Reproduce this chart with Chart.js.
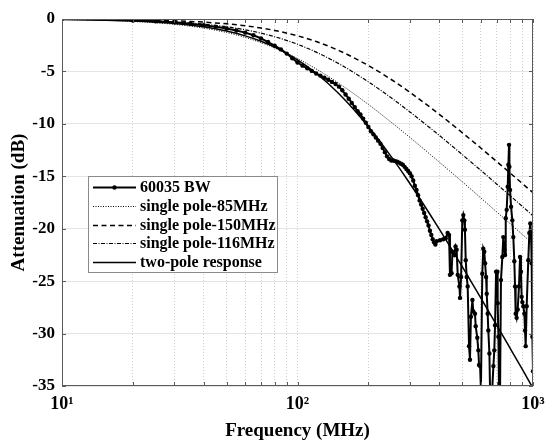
<!DOCTYPE html>
<html>
<head>
<meta charset="utf-8">
<script src="https://cdn.jsdelivr.net/npm/chart.js@4.4.0/dist/chart.umd.min.js"></script>
<style>
  html, body { margin: 0; padding: 0; background: #fff; }
  #wrap { width: 547px; height: 442px; }
</style>
</head>
<body>
<div id="wrap"><canvas id="attChart" width="547" height="442"></canvas></div>
<script>
// measured 60035 response (MHz, dB)
const measFreq = [10, 15, 20, 25, 30, 35, 40, 45, 50, 55, 60, 65, 70, 75, 80, 85, 90, 95,
  100, 105, 110, 115, 120, 125, 130, 135, 140, 145, 150, 155, 160, 165, 170, 175, 180, 185, 190, 195,
  200, 205, 210, 215, 220, 225, 230, 235, 240, 245, 250, 255, 260, 265, 270, 275, 280, 285, 290, 295,
  300, 305, 310, 315, 320, 325, 330, 335, 340, 345, 350, 355, 360, 365, 370, 375, 380, 385,
  390, 403, 416, 426, 434, 440, 444, 451, 455, 463, 469, 474, 479, 487, 490, 495,
  501, 506, 511, 514, 518, 523, 528, 535, 540, 545, 553, 558, 567, 571, 580, 586, 590, 596,
  601, 609, 615, 621, 626, 632, 636, 642, 646, 653, 657, 667, 679, 685, 690, 697,
  706, 708, 713, 717, 724, 731, 741, 748, 756, 761, 766, 773, 781, 786, 791, 794, 799,
  807, 817, 825, 833, 839, 844, 852, 861, 872, 881, 889, 895,
  901, 910, 919, 925, 931, 940, 955, 965, 974, 981, 987, 994, 1000];
const measAtt = [0, 0.05, -0.15, -0.22, -0.32, -0.45, -0.6, -0.75, -0.9, -1.1, -1.3, -1.55, -1.85, -2.2, -2.55, -2.9, -3.3, -3.75,
  -4.15, -4.45, -4.7, -4.95, -5.2, -5.4, -5.6, -5.8, -6.0, -6.2, -6.45, -6.8, -7.2, -7.6, -8.0, -8.4, -8.8, -9.1, -9.5, -9.9,
  -10.3, -10.7, -11.0, -11.3, -11.6, -11.9, -12.3, -12.7, -13.1, -13.35, -13.5, -13.5, -13.55, -13.6, -13.7, -13.8, -13.9, -14.1, -14.3, -14.5,
  -14.7, -15.0, -15.4, -15.9, -16.3, -16.8, -17.3, -17.7, -18.1, -18.5, -18.9, -19.3, -19.7, -20.2, -20.6, -21.0, -21.3, -21.5,
  -21.2, -21.1, -21.0, -20.9, -20.4, -20.6, -24.4, -24.25, -22.2, -22.5, -21.7, -22.0, -24.4, -25.5, -26.6, -24.6,
  -19.2, -18.7, -19.2, -20.1, -23.0, -24.6, -25.5, -31.2, -32.5, -28.4, -26.8, -27.9, -28.1, -29.3, -30.4, -31.6, -33.0, -33.1,
  -35.3, -24.3, -21.9, -22.2, -23.3, -24.6, -26.2, -28.1, -29.7, -31.9, -35.3, -36.5, -33.1, -31.6, -29.2, -24.1,
  -24.1, -27.1, -30.3, -35.3, -36.5, -24.9, -22.7, -20.8, -22.0, -22.5, -19.0, -18.2, -16.0, -13.9, -12.0, -14.1, -16.3,
  -17.9, -19.2, -20.8, -23.1, -25.5, -28.1, -28.5, -27.7, -25.5, -22.7, -24.1, -26.5,
  -27.0, -27.4, -28.1, -29.7, -31.2, -27.4, -23.0, -20.4, -19.5, -20.4, -23.3, -30.3, -33.6];

// model curves
const modelFreq = [10, 15, 20, 30, 40, 50, 60, 70, 80, 100, 120, 150, 200, 250, 300, 400, 500, 600, 700, 800, 900, 1000];
const pole85 = [-0.06, -0.13, -0.23, -0.51, -0.87, -1.29, -1.76, -2.25, -2.76, -3.77, -4.76, -6.14, -8.15, -9.85, -11.29, -13.65, -15.51, -17.06, -18.38, -19.52, -20.54, -21.44];
const pole150 = [-0.02, -0.04, -0.08, -0.17, -0.30, -0.46, -0.64, -0.86, -1.09, -1.60, -2.15, -3.01, -4.44, -5.77, -6.99, -9.09, -10.83, -12.30, -13.58, -14.69, -15.68, -16.57];
const pole116 = [-0.03, -0.07, -0.13, -0.28, -0.49, -0.74, -1.03, -1.35, -1.69, -2.41, -3.16, -4.27, -5.99, -7.52, -8.86, -11.10, -12.92, -14.43, -15.73, -16.86, -17.86, -18.77];
const twoPole = [-0.05, -0.11, -0.19, -0.43, -0.75, -1.15, -1.61, -2.12, -2.68, -3.89, -5.17, -7.13, -10.27, -13.13, -15.69, -20.04, -23.60, -26.59, -29.16, -31.41, -33.40, -35.20];

const seriesNames = ['60035 BW', 'single pole-85MHz', 'single pole-150MHz', 'single pole-116MHz', 'two-pole response'];

// axis ticks
const xTickVals = [10, 20, 30, 40, 50, 60, 70, 80, 90, 100, 200, 300, 400, 500, 600, 700, 800, 900, 1000];
const xTickLabels = { 10: '10¹', 100: '10²', 1000: '10³' };
const yTickVals = [0, -5, -10, -15, -20, -25, -30, -35];

function pts(xs, ys) {
  return xs.map(function (x, i) { return { x: x, y: ys[i] }; });
}

Chart.defaults.font.family = "'Liberation Serif', 'Times New Roman', serif";
Chart.defaults.font.weight = 'bold';
Chart.defaults.color = '#000';

// box around the plot, inward ticks, legend inside the plot
const framePlugin = {
  id: 'framePlugin',
  afterDatasetsDraw(chart) {
    const ctx = chart.ctx;
    const a = chart.chartArea;
    const xs = chart.scales.x, ys = chart.scales.y;
    ctx.save();
    ctx.strokeStyle = '#5a5a5a';
    ctx.lineWidth = 1;
    ctx.setLineDash([]);
    ctx.strokeRect(a.left + 0.5, a.top + 0.5, a.right - a.left - 1, a.bottom - a.top - 1);
    ctx.beginPath();
    xTickVals.forEach(function (v) {
      const px = Math.round(xs.getPixelForValue(v)) + 0.5;
      ctx.moveTo(px, a.bottom); ctx.lineTo(px, a.bottom - 4);
      ctx.moveTo(px, a.top); ctx.lineTo(px, a.top + 4);
    });
    yTickVals.forEach(function (v) {
      const py = Math.round(ys.getPixelForValue(v)) + 0.5;
      ctx.moveTo(a.left, py); ctx.lineTo(a.left + 4, py);
      ctx.moveTo(a.right, py); ctx.lineTo(a.right - 4, py);
    });
    ctx.stroke();
    ctx.restore();
  },
  afterDraw(chart) {
    const ctx = chart.ctx;
    const a = chart.chartArea;
    const x0 = a.left + 26;
    const y0 = Math.round(chart.scales.y.getPixelForValue(-15));
    const w = 189, h = 96, rowH = 18.8;
    ctx.save();
    ctx.fillStyle = '#fff';
    ctx.fillRect(x0, y0, w, h);
    ctx.strokeStyle = '#8a8a8a';
    ctx.lineWidth = 1;
    ctx.strokeRect(x0 + 0.5, y0 + 0.5, w, h);
    ctx.font = "bold 16px 'Liberation Serif', 'Times New Roman', serif";
    ctx.textBaseline = 'middle';
    ctx.fillStyle = '#000';
    chart.data.datasets.forEach(function (ds, i) {
      const cy = Math.round(y0 + 11 + i * rowH) + 0.5;
      ctx.strokeStyle = '#000';
      ctx.lineWidth = ds.borderWidth;
      ctx.setLineDash(ds.borderDash || []);
      ctx.beginPath();
      ctx.moveTo(x0 + 5, cy);
      ctx.lineTo(x0 + 48, cy);
      ctx.stroke();
      if (ds.pointRadius > 0) {
        ctx.setLineDash([]);
        ctx.beginPath();
        ctx.arc(x0 + 26.5, cy, ds.pointRadius, 0, Math.PI * 2);
        ctx.fill();
      }
      ctx.fillText(ds.label, x0 + 52, cy);
    });
    ctx.restore();
  }
};

const ctx = document.getElementById('attChart').getContext('2d');
new Chart(ctx, {
  type: 'line',
  data: {
    datasets: [
      {
        label: seriesNames[0],
        data: pts(measFreq, measAtt),
        borderColor: '#000',
        backgroundColor: '#000',
        borderWidth: 2,
        pointRadius: 2.2,
        pointHoverRadius: 2.2,
        pointBorderWidth: 0,
        tension: 0
      },
      {
        label: seriesNames[1],
        data: pts(modelFreq, pole85),
        borderColor: '#000',
        borderWidth: 1,
        borderDash: [1, 1.5],
        pointRadius: 0,
        cubicInterpolationMode: 'monotone'
      },
      {
        label: seriesNames[2],
        data: pts(modelFreq, pole150),
        borderColor: '#000',
        borderWidth: 1.5,
        borderDash: [5, 3.5],
        pointRadius: 0,
        cubicInterpolationMode: 'monotone'
      },
      {
        label: seriesNames[3],
        data: pts(modelFreq, pole116),
        borderColor: '#000',
        borderWidth: 1.2,
        borderDash: [4, 1.5, 1, 1.5],
        pointRadius: 0,
        cubicInterpolationMode: 'monotone'
      },
      {
        label: seriesNames[4],
        data: pts(modelFreq, twoPole),
        borderColor: '#000',
        borderWidth: 1.5,
        pointRadius: 0,
        cubicInterpolationMode: 'monotone'
      }
    ]
  },
  options: {
    responsive: false,
    animation: false,
    devicePixelRatio: 1,
    layout: { padding: { top: 19, right: 14, left: 0, bottom: 0 } },
    plugins: {
      legend: { display: false },
      tooltip: { enabled: false }
    },
    scales: {
      x: {
        type: 'logarithmic',
        min: 10,
        max: 1000,
        afterBuildTicks: function (scale) {
          scale.ticks = xTickVals.map(function (v) { return { value: v }; });
        },
        afterFit: function (scale) {
          scale.height = 56;
          scale.paddingLeft = 0;
          scale.paddingRight = 0;
        },
        ticks: {
          autoSkip: false,
          maxRotation: 0,
          padding: 8,
          font: { size: 18 },
          callback: function (v) { return xTickLabels[v] || ''; }
        },
        grid: { color: '#cfcfcf', lineWidth: 1, drawTicks: false },
        border: { display: false, dash: [1, 2] },
        title: {
          display: true,
          text: 'Frequency (MHz)',
          font: { size: 19 },
          padding: { top: 0, bottom: 0 }
        }
      },
      y: {
        min: -35,
        max: 0,
        afterBuildTicks: function (scale) {
          scale.ticks = yTickVals.map(function (v) { return { value: v }; });
        },
        afterFit: function (scale) {
          scale.width = 62;
          scale.paddingTop = 0;
          scale.paddingBottom = 0;
        },
        ticks: {
          padding: 7,
          font: { size: 17 },
          callback: function (v) { return String(v); }
        },
        grid: { color: '#e4e4e4', lineWidth: 1, drawTicks: false },
        border: { display: false },
        title: {
          display: true,
          text: 'Attenuation (dB)',
          font: { size: 19 },
          padding: { top: 8, bottom: 0 }
        }
      }
    }
  },
  plugins: [framePlugin]
});
</script>
</body>
</html>
